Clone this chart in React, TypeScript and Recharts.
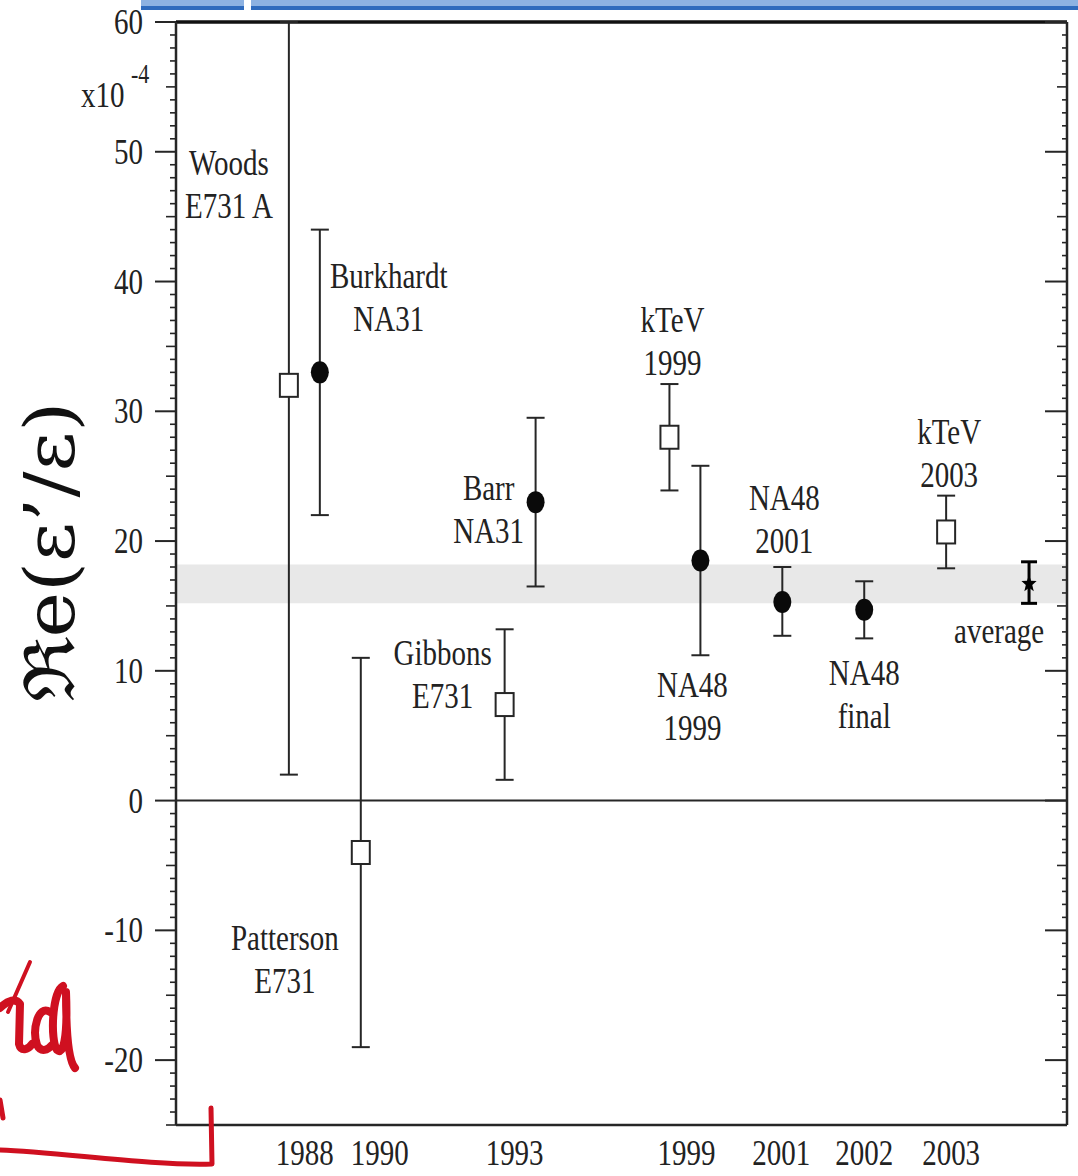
import React from 'react';
import { ScatterChart, Scatter, XAxis, YAxis, ErrorBar, ReferenceArea, ReferenceLine } from 'recharts';

// ---- data ----
const yearTickPositions = [12.9, 20.4, 33.9, 51.1, 60.6, 68.9, 77.6];
const yearTickLabels = ['1988', '1990', '1993', '1999', '2001', '2002', '2003'];

const majorYTicks = [-20, -10, 0, 10, 20, 30, 40, 50, 60];
const yDomain = [-25, 60];

// open squares: E731 / kTeV
const squarePoints = [
  { name: 'Woods E731 A', x: 11.3, y: 32, err: [30, 28] },
  { name: 'Patterson E731', x: 18.5, y: -4, err: [15, 15] },
  { name: 'Gibbons E731', x: 32.9, y: 7.4, err: [5.8, 5.8] },
  { name: 'kTeV 1999', x: 49.4, y: 28, err: [4.1, 4.1] },
  { name: 'kTeV 2003', x: 77.1, y: 20.7, err: [2.8, 2.8] },
];
// filled circles: NA31 / NA48
const circlePoints = [
  { name: 'Burkhardt NA31', x: 14.4, y: 33, err: [11, 11] },
  { name: 'Barr NA31', x: 36.0, y: 23, err: [6.5, 6.5] },
  { name: 'NA48 1999', x: 52.5, y: 18.5, err: [7.3, 7.3] },
  { name: 'NA48 2001', x: 60.7, y: 15.3, err: [2.6, 2.7] },
  { name: 'NA48 final', x: 68.9, y: 14.7, err: [2.2, 2.2] },
];
const averagePoints = [{ name: 'average', x: 85.4, y: 16.7, err: [1.5, 1.7] }];
const bandRange = [15.2, 18.2];

const annotations = [
  { x: 5.3, y: 49.1, lines: ['Woods', 'E731 A'] },
  { x: 21.3, y: 40.4, lines: ['Burkhardt', 'NA31'] },
  { x: 10.9, y: -10.6, lines: ['Patterson', 'E731'] },
  { x: 26.7, y: 11.4, lines: ['Gibbons', 'E731'] },
  { x: 31.3, y: 24.1, lines: ['Barr', 'NA31'] },
  { x: 49.7, y: 37.0, lines: ['kTeV', '1999'] },
  { x: 51.7, y: 8.9, lines: ['NA48', '1999'] },
  { x: 60.9, y: 23.3, lines: ['NA48', '2001'] },
  { x: 68.9, y: 9.8, lines: ['NA48', 'final'] },
  { x: 77.4, y: 28.4, lines: ['kTeV', '2003'] },
  { x: 82.4, y: 13.1, lines: ['average'] },
];

// ---- helpers ----
const allYTicks: number[] = [];
for (let v = yDomain[0]; v <= yDomain[1]; v++) allYTicks.push(v);

const FONT = '"Liberation Serif", "Times New Roman", serif';
const INK = '#262626';

const LeftTick = (props: any) => {
  const { x, y, payload } = props;
  const v = payload.value;
  const major = majorYTicks.includes(v);
  const mid = !major && v % 5 === 0;
  const len = major ? 21 : mid ? 10 : 6;
  return (
    <g>
      <line x1={x - len} x2={x} y1={y} y2={y} stroke={INK} strokeWidth={major ? 2 : 1.6} />
      {major && (
        <text
          transform={`translate(${x - 33},${y}) scale(1,1.22)`}
          textAnchor="end"
          dominantBaseline="central"
          fontFamily={FONT}
          fontSize={29}
          fill="#222"
        >
          {v}
        </text>
      )}
    </g>
  );
};

const RightTick = (props: any) => {
  const { x, y, payload } = props;
  const v = payload.value;
  const major = majorYTicks.includes(v);
  const mid = !major && v % 5 === 0;
  const len = major ? 22 : mid ? 10 : 5;
  return <line x1={x - len} x2={x} y1={y} y2={y} stroke={INK} strokeWidth={major ? 2 : 1.6} />;
};

const BottomTick = (props: any) => {
  const { x, y, payload } = props;
  const idx = yearTickPositions.indexOf(payload.value);
  return (
    <text
      transform={`translate(${x},${y + 28}) scale(1,1.22)`}
      textAnchor="middle"
      dominantBaseline="central"
      fontFamily={FONT}
      fontSize={29}
      fill="#222"
    >
      {yearTickLabels[idx]}
    </text>
  );
};

const SquareShape = (props: any) => {
  const { cx, cy } = props;
  return <rect x={cx - 9} y={cy - 11.5} width={18} height={23} fill="#fff" stroke={INK} strokeWidth={2} />;
};
const CircleShape = (props: any) => {
  const { cx, cy } = props;
  return <ellipse cx={cx} cy={cy} rx={9} ry={11} fill="#0a0a0a" />;
};
const StarShape = (props: any) => {
  const { cx, cy } = props;
  const pts: string[] = [];
  for (let i = 0; i < 10; i++) {
    const r = i % 2 === 0 ? 8 : 3.4;
    const a = -Math.PI / 2 + (i * Math.PI) / 5;
    pts.push(`${cx + r * Math.cos(a)},${cy + r * Math.sin(a) * 1.15}`);
  }
  return <polygon points={pts.join(' ')} fill="#000" />;
};
const LabelShape = (props: any) => {
  const { cx, cy, payload } = props;
  const lines: string[] = payload.lines;
  return (
    <g>
      {lines.map((t, i) => (
        <text
          key={i}
          transform={`translate(${cx},${cy + i * 43}) scale(1,1.22)`}
          textAnchor="middle"
          dominantBaseline="central"
          fontFamily={FONT}
          fontSize={29}
          fill="#222"
        >
          {t}
        </text>
      ))}
    </g>
  );
};

export default function App() {
  return (
    <div style={{ position: 'absolute', left: 0, top: 0, width: 1078, height: 1176, background: '#fff' }}>
      <ScatterChart width={1078} height={1176} margin={{ top: 22, right: 0, bottom: 0, left: 0 }}>
        <XAxis
          type="number"
          dataKey="x"
          domain={[0, 89.2]}
          ticks={yearTickPositions}
          interval={0}
          allowDataOverflow
          height={51}
          tickLine={false}
          tickSize={0}
          tickMargin={0}
          axisLine={{ stroke: INK, strokeWidth: 2.5 }}
          tick={<BottomTick />}
        />
        <YAxis
          yAxisId="left"
          type="number"
          dataKey="y"
          domain={yDomain}
          allowDataOverflow
          ticks={allYTicks}
          interval={0}
          width={176}
          tickLine={false}
          tickSize={0}
          tickMargin={0}
          axisLine={{ stroke: INK, strokeWidth: 2.5 }}
          tick={<LeftTick />}
        />
        <YAxis
          yAxisId="right"
          orientation="right"
          type="number"
          domain={yDomain}
          allowDataOverflow
          ticks={allYTicks}
          interval={0}
          width={11}
          tickLine={false}
          tickSize={0}
          tickMargin={0}
          axisLine={{ stroke: INK, strokeWidth: 2.5 }}
          tick={<RightTick />}
        />
        <ReferenceArea yAxisId="left" y1={bandRange[0]} y2={bandRange[1]} fill="#e8e8e8" fillOpacity={1} stroke="none" />
        <ReferenceLine yAxisId="left" y={0} stroke={INK} strokeWidth={2} />
        <ReferenceLine yAxisId="left" y={60} stroke="#111" strokeWidth={3.5} />
        <Scatter yAxisId="left" data={annotations} shape={<LabelShape />} isAnimationActive={false} />
        <Scatter yAxisId="left" data={squarePoints} shape={<SquareShape />} isAnimationActive={false}>
          <ErrorBar dataKey="err" direction="y" width={9} stroke={INK} strokeWidth={2} />
        </Scatter>
        <Scatter yAxisId="left" data={circlePoints} shape={<CircleShape />} isAnimationActive={false}>
          <ErrorBar dataKey="err" direction="y" width={9} stroke={INK} strokeWidth={2} />
        </Scatter>
        <Scatter yAxisId="left" data={averagePoints} shape={<StarShape />} isAnimationActive={false}>
          <ErrorBar dataKey="err" direction="y" width={8} stroke="#000" strokeWidth={3} />
        </Scatter>
      </ScatterChart>
      <svg
        width={1078}
        height={1176}
        style={{ position: 'absolute', left: 0, top: 0, pointerEvents: 'none' }}
      >
        {/* cut-off blue title at the very top */}
        <rect x={141} y={0} width={103} height={6} fill="#8db2e2" />
        <rect x={251} y={0} width={827} height={6} fill="#8db2e2" />
        <rect x={141} y={6} width={103} height={4} fill="#2f6bbd" />
        <rect x={251} y={6} width={827} height={4} fill="#2f6bbd" />
        {/* y axis title */}
        <text
          transform="translate(50,552) rotate(-90) scale(1.1,1)"
          textAnchor="middle"
          dominantBaseline="central"
          fontFamily='"DejaVu Serif", "Liberation Serif", serif'
          fontSize={70}
          fill="#111"
        >
          ℜe(ε’/ε)
        </text>
        <text fontFamily={FONT} fontSize={29} fill="#222" transform="translate(81,107) scale(1,1.22)">
          x10
        </text>
        <text fontFamily={FONT} fontSize={22} fill="#222" transform="translate(131,83) scale(1,1.2)">
          -4
        </text>
        {/* red handwriting */}
        <g stroke="#cf1020" strokeWidth={8} fill="none" strokeLinecap="round" strokeLinejoin="round">
          <path d="M 0 1008 C 8 1000, 16 998, 20 1004 L 19 1044 C 21 1052, 28 1050, 32 1044" />
          <path d="M 8 1012 L 30 962" strokeWidth={4} />
          <path d="M 50 1012 C 38 1004, 32 1030, 37 1045 C 41 1053, 48 1050, 52 1045" />
          <path d="M 63 986 C 52 992, 50 1040, 57 1050 C 63 1055, 68 1040, 66 992 C 66 1030, 68 1060, 75 1068" />
          <path d="M 0 1100 L 3 1118" strokeWidth={5} />
          <path d="M 0 1150 C 60 1152, 150 1166, 212 1164 L 211 1108" strokeWidth={5} />
        </g>
      </svg>
    </div>
  );
}
